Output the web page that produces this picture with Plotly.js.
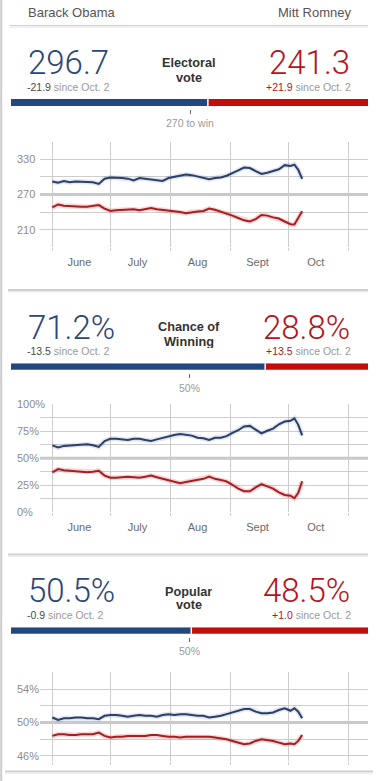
<!DOCTYPE html>
<html>
<head>
<meta charset="utf-8">
<script src="https://cdn.plot.ly/plotly-3.0.1.min.js"></script>
<style>
html,body{margin:0;padding:0;background:#fff;overflow:hidden}
#chart{width:378px;height:781px}
</style>
</head>
<body>
<div id="chart"></div>
<script>
// ---------------- DATA ----------------
const candidates = ['Barack Obama', 'Mitt Romney'];
const metricTitles = [['Electoral', 'vote'], ['Chance of', 'Winning'], ['Popular', 'vote']];
const obamaNow = [296.7, 71.2, 50.5];
const romneyNow = [241.3, 28.8, 48.5];
const obamaChange = [-21.9, -13.5, -0.9];
const romneyChange = [21.9, 13.5, 1.0];
const sinceLabel = 'since Oct. 2';
const barTotals = [538, 100, 100];
const thresholds = [270, 50, 50];
const thresholdLabels = ['270 to win', '50%', '50%'];
const unitSuffix = ['', '%', '%'];

const dates = [
  '2012-06-01','2012-06-04','2012-06-07','2012-06-10','2012-06-13','2012-06-16','2012-06-19','2012-06-22','2012-06-25','2012-06-28',
  '2012-07-01','2012-07-04','2012-07-07','2012-07-10','2012-07-13','2012-07-16','2012-07-19','2012-07-22','2012-07-25','2012-07-28',
  '2012-07-31','2012-08-03','2012-08-06','2012-08-09','2012-08-12','2012-08-15','2012-08-18','2012-08-21','2012-08-24','2012-08-27',
  '2012-08-30','2012-09-02','2012-09-05','2012-09-08','2012-09-11','2012-09-14','2012-09-17','2012-09-20','2012-09-23','2012-09-26',
  '2012-09-29','2012-10-02','2012-10-04','2012-10-06','2012-10-08'
];
const obamaEV = [292, 290, 293, 291, 292, 292, 292, 291, 288, 297,
  299, 299, 298, 297, 294, 298, 297, 296, 294, 293,
  298, 300, 302, 304, 303, 301, 299, 296, 298, 299,
  302, 306, 311, 316, 315, 310, 305, 307, 310, 313,
  320, 318.6, 321, 312, 296.7];
const romneyEV = [248, 253, 251, 250, 250, 249, 249, 250, 252, 246,
  242, 243, 244, 244, 245, 243, 245, 247, 245, 244,
  242, 241, 240, 238, 240, 241, 242, 246, 244, 241,
  238, 234, 230, 226, 224, 228, 235, 234, 231, 229,
  224, 219.4, 219, 229, 241.3];
const obamaWin = [62, 60, 61.5, 62, 62.5, 63, 63, 62, 60.5, 66,
  68, 68, 67.5, 67, 68, 68, 67, 66, 67.5, 69,
  70, 71.5, 72.5, 72, 71, 69, 68.5, 67, 69, 69,
  70.5, 73.5, 76, 79.5, 80, 76.5, 73, 75.5, 77.5, 81.5,
  84, 84.7, 87, 81, 71.2];
const romneyWin = [37, 40, 39, 38.5, 38, 38, 37, 37.5, 38.5, 34,
  32, 32, 32.5, 33, 32.5, 32, 33, 34, 32.5, 31,
  29.5, 28, 27, 28, 29, 30.5, 31, 33, 31, 30,
  28.5, 25.5, 22, 19.5, 19.5, 23, 26, 24, 22, 18.5,
  16, 15.3, 13, 18, 28.8];
const obamaPop = [50.6, 50.3, 50.5, 50.5, 50.6, 50.6, 50.5, 50.5, 50.4, 50.8,
  50.9, 50.9, 50.8, 50.7, 50.8, 50.9, 50.8, 50.8, 50.7, 50.9,
  51.0, 50.9, 51.0, 51.0, 50.9, 50.8, 50.8, 50.6, 50.7, 50.8,
  51.0, 51.2, 51.4, 51.6, 51.6, 51.3, 51.1, 51.1, 51.2, 51.5,
  51.7, 51.4, 51.7, 51.3, 50.5];
const romneyPop = [48.4, 48.6, 48.6, 48.5, 48.5, 48.6, 48.6, 48.6, 48.8, 48.4,
  48.2, 48.3, 48.3, 48.4, 48.4, 48.4, 48.4, 48.5, 48.5, 48.4,
  48.3, 48.3, 48.2, 48.3, 48.3, 48.3, 48.3, 48.3, 48.2, 48.1,
  48.0, 47.8, 47.6, 47.4, 47.5, 47.8, 48.0, 47.9, 47.8, 47.6,
  47.4, 47.5, 47.4, 47.8, 48.5];

const monthStarts = ['2012-06-01','2012-07-01','2012-08-01','2012-09-01','2012-10-01','2012-11-01'];
const monthLabelDates = ['2012-06-15','2012-07-15','2012-08-15','2012-09-15','2012-10-15'];
const monthLabels = ['June','July','Aug','Sept','Oct'];

const evTicks = [210, 270, 330];
const evTickText = ['210', '270', '330'];
const evMinor = [180, 240, 300, 360];
const winTicks = [0, 25, 50, 75, 100];
const winTickText = ['0%', '25%', '50%', '75%', '100%'];
const winMinor = [12.5, 37.5, 62.5, 87.5];
const popTicks = [46, 50, 54];
const popTickText = ['46%', '50%', '54%'];
const popMinor = [48, 52, 56];

// ---------------- STYLE ----------------
const W = 378, H = 781;
const X = px => px / W;
const Y = py => 1 - py / H;
const FONT = 'Liberation Sans, Arial, sans-serif';
const BIGFONT = 'Roboto, Liberation Sans, Arial, sans-serif';
const BLUE_LINE = '#2c3f66', RED_LINE = '#a61e22';
const BLUE_HALO = 'rgba(70,100,170,0.16)', RED_HALO = 'rgba(225,70,70,0.22)';
const BLUE_BAR = '#24477f', RED_BAR = '#c30d0d';
const BLUE_TEXT = '#2b4677', RED_TEXT = '#b3141c';
const GRID = '#cdcdcd';

const charts = [
  {top: 141.7, bottom: 247.3, range: [180, 360], ticks: evTicks, text: evTickText, minor: evMinor, labels: true, ob: obamaEV, ro: romneyEV},
  {top: 404.3, bottom: 512.3, range: [0, 100], ticks: winTicks, text: winTickText, minor: winMinor, labels: true, ob: obamaWin, ro: romneyWin},
  {top: 672.3, bottom: 761, range: [45.4, 56], ticks: popTicks, text: popTickText, minor: popMinor, labels: false, ob: obamaPop, ro: romneyPop}
];
const sections = [
  {num: 61.8, chg: 87.3, t1: 62.6, t2: 77.1, barTop: 99, barH: 7, thr: 123},
  {num: 326.8, chg: 351.1, t1: 326.9, t2: 341.1, barTop: 363.3, barH: 6.5, thr: 387.7},
  {num: 589.8, chg: 614.8, t1: 591.3, t2: 604.7, barTop: 627.3, barH: 6.5, thr: 651}
];

const traces = [];
const layout = {
  width: W, height: H,
  margin: {l: 0, r: 0, t: 0, b: 0},
  paper_bgcolor: '#fff', plot_bgcolor: 'rgba(0,0,0,0)',
  showlegend: false, barmode: 'overlay',
  font: {family: FONT, color: '#666'},
  annotations: [], shapes: []
};

// separators and left border (paper shapes)
[[25.5, 10, 368, 1], [290, 8, 368, 2], [554.5, 8, 368, 2], [771.5, 5, 373, 2]].forEach(([py, x0, x1, w]) => {
  layout.shapes.push({type: 'line', xref: 'paper', yref: 'paper', x0: X(x0), x1: X(x1), y0: Y(py), y1: Y(py),
    line: {color: '#cfcfcf', width: w}});
  layout.shapes.push({type: 'line', xref: 'paper', yref: 'paper', x0: X(x0), x1: X(x1), y0: Y(py + 1.8), y1: Y(py + 1.8),
    line: {color: '#eeeeee', width: 1.5}});
});
layout.shapes.push({type: 'line', xref: 'paper', yref: 'paper', x0: X(1.2), x1: X(1.2), y0: 0, y1: 1,
  line: {color: '#cccccc', width: 2}});

charts.forEach((c, i) => {
  const n = i + 1;
  const xa = n === 1 ? 'x' : 'x' + n;
  const ya = n === 1 ? 'y' : 'y' + n;
  const xKey = n === 1 ? 'xaxis' : 'xaxis' + n;
  const yKey = n === 1 ? 'yaxis' : 'yaxis' + n;
  layout[xKey] = {
    domain: [X(40), X(368)], range: ['2012-05-25 15:30', '2012-11-11'], type: 'date', anchor: ya,
    tickmode: 'array', tickvals: monthLabelDates, ticktext: monthLabels, showticklabels: c.labels,
    ticks: '', showgrid: false, showline: false, zeroline: false, ticklabelstandoff: 7,
    tickfont: {family: FONT, size: 11, color: '#6a6a6a'},
    minor: {tickmode: 'array', tickvals: monthStarts, showgrid: true, gridcolor: GRID, gridwidth: 1,
            ticks: 'outside', ticklen: 3, tickcolor: GRID, tickwidth: 1}
  };
  layout[yKey] = {
    domain: [Y(c.bottom), Y(c.top)], range: c.range, anchor: 'free', position: X(13),
    tickmode: 'array', tickvals: c.ticks, ticktext: c.text,
    ticklabelposition: 'inside', ticklabeloverflow: 'allow',
    showgrid: true, gridcolor: GRID, gridwidth: 1, zeroline: false, showline: false, ticks: '',
    tickfont: {family: FONT, size: 11, color: '#8c8c8c'},
    minor: {tickmode: 'array', tickvals: c.minor, showgrid: true, gridcolor: GRID, gridwidth: 1}
  };
  layout.shapes.push({type: 'line', xref: 'paper', x0: X(40), x1: X(368), yref: ya, y0: thresholds[i], y1: thresholds[i],
    line: {color: '#c6c6c6', width: 3}, layer: 'below'});
  [[c.ob, BLUE_HALO, 5], [c.ro, RED_HALO, 5], [c.ob, BLUE_LINE, 2], [c.ro, RED_LINE, 2]].forEach(([vals, col, w]) => {
    traces.push({type: 'scatter', mode: 'lines', x: dates, y: vals, xaxis: xa, yaxis: ya,
      line: {color: col, width: w}, hoverinfo: 'skip'});
  });
});

sections.forEach((s, i) => {
  const n = i + 4;
  const xa = 'x' + n, ya = 'y' + n;
  const bottom = s.barTop + s.barH + 3;
  const span = bottom - s.barTop;
  layout['xaxis' + n] = {
    domain: [X(11), X(368)], range: [0, barTotals[i]], anchor: ya,
    tickmode: 'array', tickvals: [thresholds[i]], showticklabels: false,
    ticks: 'outside', ticklen: 4, tickwidth: 1, tickcolor: '#666',
    showgrid: false, zeroline: false, showline: false
  };
  layout['yaxis' + n] = {domain: [Y(bottom), Y(s.barTop)], range: [0, span], visible: false};
  const yc = span - s.barH / 2;
  traces.push({type: 'bar', orientation: 'h', x: [obamaNow[i]], base: [0], y: [yc], width: [s.barH],
    xaxis: xa, yaxis: ya, marker: {color: BLUE_BAR, line: {width: 0}}, hoverinfo: 'skip'});
  traces.push({type: 'bar', orientation: 'h', x: [barTotals[i] - obamaNow[i]], base: [obamaNow[i]], y: [yc], width: [s.barH],
    xaxis: xa, yaxis: ya, marker: {color: RED_BAR, line: {width: 0}}, hoverinfo: 'skip'});
  layout.shapes.push({type: 'line', xref: xa, x0: obamaNow[i], x1: obamaNow[i], yref: 'paper', y0: Y(s.barTop + s.barH), y1: Y(s.barTop),
    line: {color: '#fff', width: 1.5}});
  layout.annotations.push({xref: xa, x: thresholds[i], yref: 'paper', y: Y(s.thr), text: thresholdLabels[i],
    showarrow: false, xanchor: 'center', yanchor: 'middle', height: 12, font: {family: FONT, size: 10.5, color: '#9a9a9a'}});

  const fmt = v => (v > 0 ? '+' : '') + v.toFixed(1);
  layout.annotations.push(
    {xref: 'paper', yref: 'paper', x: X(26), y: Y(s.num), xanchor: 'left', yanchor: 'middle', showarrow: false, height: 28,
     text: obamaNow[i].toFixed(1) + unitSuffix[i], font: {family: BIGFONT, size: 33, color: BLUE_TEXT, weight: 300}},
    {xref: 'paper', yref: 'paper', x: X(352), y: Y(s.num), xanchor: 'right', yanchor: 'middle', showarrow: false, height: 28,
     text: romneyNow[i].toFixed(1) + unitSuffix[i], font: {family: BIGFONT, size: 33, color: RED_TEXT, weight: 300}},
    {xref: 'paper', yref: 'paper', x: X(25), y: Y(s.chg), xanchor: 'left', yanchor: 'middle', showarrow: false, height: 12,
     text: '<span style="color:#4a4a4a">' + fmt(obamaChange[i]) + '</span> ' + sinceLabel,
     font: {family: FONT, size: 10.5, color: '#9a9a9a'}},
    {xref: 'paper', yref: 'paper', x: X(353), y: Y(s.chg), xanchor: 'right', yanchor: 'middle', showarrow: false, height: 12,
     text: '<span style="color:#b3141c">' + fmt(romneyChange[i]) + '</span> ' + sinceLabel,
     font: {family: FONT, size: 10.5, color: '#9a9a9a'}},
    {xref: 'paper', yref: 'paper', x: X(188.7), y: Y(s.t1), xanchor: 'center', yanchor: 'middle', showarrow: false, height: 13,
     text: '<b>' + metricTitles[i][0] + '</b>', font: {family: FONT, size: 12.7, color: '#333'}},
    {xref: 'paper', yref: 'paper', x: X(188.7), y: Y(s.t2), xanchor: 'center', yanchor: 'middle', showarrow: false, height: 13,
     text: '<b>' + metricTitles[i][1] + '</b>', font: {family: FONT, size: 12.7, color: '#333'}}
  );
});

// header names
layout.annotations.push(
  {xref: 'paper', yref: 'paper', x: X(26), y: Y(12.5), xanchor: 'left', yanchor: 'middle', showarrow: false,
   text: candidates[0], font: {family: FONT, size: 13, color: '#555'}},
  {xref: 'paper', yref: 'paper', x: X(352.5), y: Y(12.5), xanchor: 'right', yanchor: 'middle', showarrow: false,
   text: candidates[1], font: {family: FONT, size: 13, color: '#555'}}
);

Plotly.newPlot('chart', traces, layout, {staticPlot: true, displayModeBar: false});
</script>
</body>
</html>
